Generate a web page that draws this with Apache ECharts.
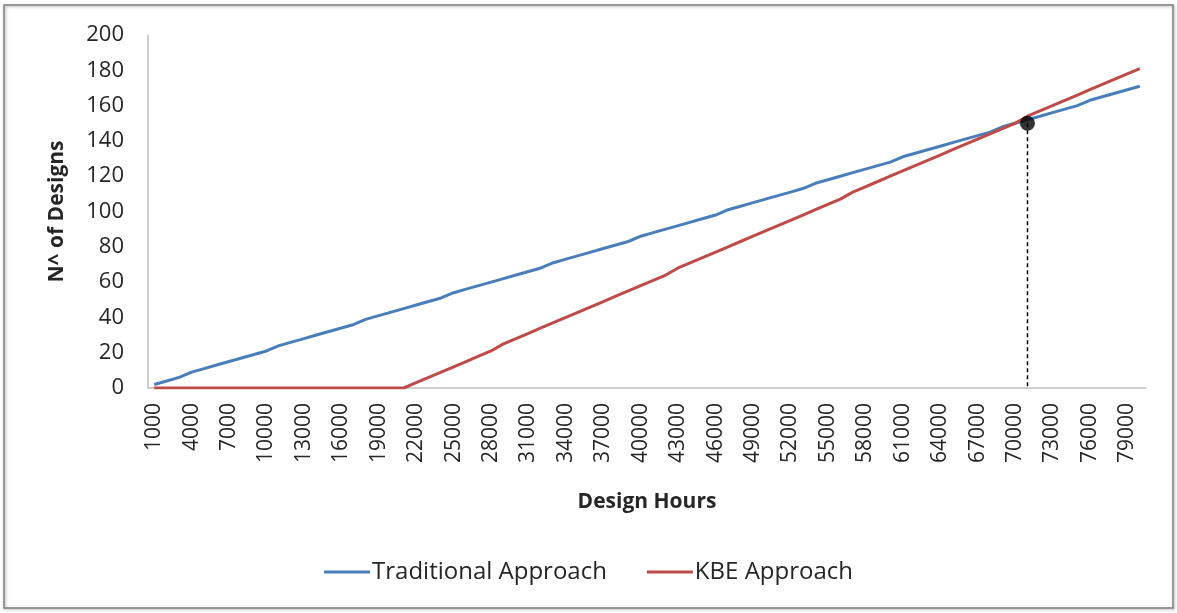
<!DOCTYPE html>
<html>
<head>
<meta charset="utf-8">
<script src="https://cdn.jsdelivr.net/npm/echarts@6/dist/echarts.min.js"></script>
<style>
  html, body { margin: 0; padding: 0; background: #fff; }
  #chart { width: 1177px; height: 613px; }
</style>
</head>
<body>
<div id="chart"></div>
<script>
// Design hours (x axis categories)
const designHours = [
  '1000','2000','3000','4000','5000','6000','7000','8000','9000','10000',
  '11000','12000','13000','14000','15000','16000','17000','18000','19000','20000',
  '21000','22000','23000','24000','25000','26000','27000','28000','29000','30000',
  '31000','32000','33000','34000','35000','36000','37000','38000','39000','40000',
  '41000','42000','43000','44000','45000','46000','47000','48000','49000','50000',
  '51000','52000','53000','54000','55000','56000','57000','58000','59000','60000',
  '61000','62000','63000','64000','65000','66000','67000','68000','69000','70000',
  '71000','72000','73000','74000','75000','76000','77000','78000','79000','80000'
];

// Number of designs, traditional approach
const traditional = [
  2, 4, 6, 9, 11, 13, 15, 17, 19, 21,
  24, 26, 28, 30, 32, 34, 36, 39, 41, 43,
  45, 47, 49, 51, 54, 56, 58, 60, 62, 64,
  66, 68, 71, 73, 75, 77, 79, 81, 83, 86,
  88, 90, 92, 94, 96, 98, 101, 103, 105, 107,
  109, 111, 113, 116, 118, 120, 122, 124, 126, 128,
  131, 133, 135, 137, 139, 141, 143, 145, 148, 150,
  152, 154, 156, 158, 160, 163, 165, 167, 169, 171
];

// Number of designs, KBE approach
const kbe = [
  0, 0, 0, 0, 0, 0, 0, 0, 0, 0,
  0, 0, 0, 0, 0, 0, 0, 0, 0, 0,
  0, 3, 6, 9, 12, 15, 18, 21, 25, 28,
  31, 34, 37, 40, 43, 46, 49, 52, 55, 58,
  61, 64, 68, 71, 74, 77, 80, 83, 86, 89,
  92, 95, 98, 101, 104, 107, 111, 114, 117, 120,
  123, 126, 129, 132, 135, 138, 141, 144, 147, 150,
  154, 157, 160, 163, 166, 169, 172, 175, 178, 181
];

// Break-even point between the two approaches
const breakEvenHours = '71000';
const breakEvenDesigns = 150;

const FONT = 'Open Sans';
const TEXT = '#262626';
const chart = echarts.init(document.getElementById('chart'));

chart.setOption({
  animation: false,
  backgroundColor: '#ffffff',
  textStyle: { fontFamily: FONT },
  graphic: [{
    type: 'rect',
    shape: { x: 4, y: 5, width: 1169, height: 603 },
    style: { fill: 'none', stroke: '#7f7f7f', lineWidth: 1.5,
             shadowBlur: 3, shadowColor: 'rgba(0,0,0,0.35)', shadowOffsetX: 1, shadowOffsetY: 1 },
    silent: true, z: -1
  }],
  grid: { left: 148, right: 31, top: 35, bottom: 225, containLabel: false },
  legend: {
    data: ['Traditional Approach', 'KBE Approach'],
    bottom: 24,
    left: 'center',
    icon: 'rect',
    itemWidth: 46,
    itemHeight: 3,
    itemGap: 40,
    textStyle: { fontFamily: FONT, fontSize: 24, color: TEXT, padding: [0, 0, 0, -3] }
  },
  xAxis: {
    type: 'category',
    data: designHours,
    boundaryGap: true,
    name: 'Design Hours',
    nameLocation: 'middle',
    nameGap: 104,
    nameTextStyle: { fontFamily: FONT, fontSize: 21, fontWeight: 'bold', color: TEXT },
    axisLine: { lineStyle: { color: '#bfbfbf', width: 1.5 } },
    axisTick: { show: false },
    axisLabel: { interval: 2, rotate: 90, fontFamily: FONT, fontSize: 21, color: TEXT, margin: 15 },
    splitLine: { show: false }
  },
  yAxis: {
    type: 'value',
    min: 0,
    max: 200,
    interval: 20,
    name: 'N^ of Designs',
    nameLocation: 'middle',
    nameRotate: 90,
    nameGap: 80,
    nameTextStyle: { fontFamily: FONT, fontSize: 21, fontWeight: 'bold', color: TEXT },
    axisLine: { show: true, lineStyle: { color: '#bfbfbf', width: 1.5 } },
    axisTick: { show: false },
    axisLabel: { fontFamily: FONT, fontSize: 22, color: TEXT, margin: 24 },
    splitLine: { show: false }
  },
  series: [
    {
      name: 'Traditional Approach',
      type: 'line',
      data: traditional,
      symbol: 'none',
      lineStyle: { color: '#4a7ebb', width: 3 },
      itemStyle: { color: '#4a7ebb' },
      z: 2
    },
    {
      name: 'KBE Approach',
      type: 'line',
      data: kbe,
      symbol: 'none',
      lineStyle: { color: '#be4b48', width: 3 },
      itemStyle: { color: '#be4b48' },
      z: 3
    },
    {
      name: 'break-even drop',
      type: 'line',
      data: [[breakEvenHours, breakEvenDesigns], [breakEvenHours, 0]],
      symbol: 'none',
      lineStyle: { color: '#000', width: 1.5, type: [4, 3] },
      z: 4
    },
    {
      name: 'break-even point',
      type: 'scatter',
      data: [[breakEvenHours, breakEvenDesigns]],
      symbol: 'circle',
      symbolSize: 15,
      itemStyle: { color: '#000' },
      z: 5
    }
  ]
});
</script>
</body>
</html>
